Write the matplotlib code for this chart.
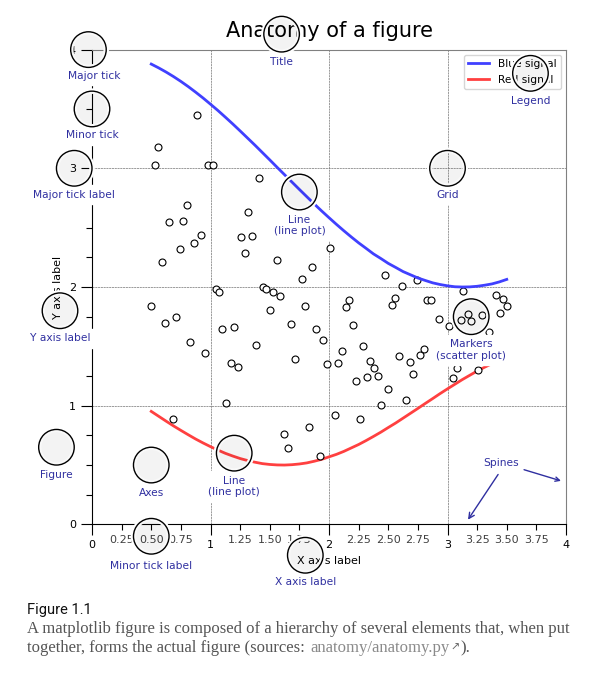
import matplotlib
matplotlib.use("Agg")
import matplotlib.pyplot as plt
from matplotlib.ticker import MultipleLocator, AutoMinorLocator, FuncFormatter
from matplotlib.patches import Circle
from matplotlib.patheffects import withStroke

# --- data ---
X_line = [0.5, 0.5625, 0.625, 0.6875, 0.75, 0.8125, 0.875, 0.9375, 1.0, 1.0625, 1.125,
          1.1875, 1.25, 1.3125, 1.375, 1.4375, 1.5, 1.5625, 1.625, 1.6875, 1.75, 1.8125,
          1.875, 1.9375, 2.0, 2.0625, 2.125, 2.1875, 2.25, 2.3125, 2.375, 2.4375, 2.5,
          2.5625, 2.625, 2.6875, 2.75, 2.8125, 2.875, 2.9375, 3.0, 3.0625, 3.125, 3.1875,
          3.25, 3.3125, 3.375, 3.4375, 3.5]
Y_blue = [3.878, 3.846, 3.811, 3.773, 3.732, 3.688, 3.641, 3.592, 3.540, 3.487, 3.431,
          3.374, 3.315, 3.255, 3.195, 3.133, 3.071, 3.008, 2.946, 2.884, 2.822, 2.761,
          2.700, 2.641, 2.584, 2.528, 2.474, 2.422, 2.372, 2.326, 2.279, 2.240, 2.199,
          2.165, 2.130, 2.103, 2.076, 2.055, 2.035, 2.021, 2.010, 2.002, 2.000, 2.001,
          2.006, 2.015, 2.026, 2.043, 2.064]
Y_red = [0.952, 0.911, 0.870, 0.830, 0.792, 0.755, 0.719, 0.686, 0.655, 0.626, 0.599,
         0.576, 0.555, 0.538, 0.524, 0.512, 0.505, 0.501, 0.500, 0.503, 0.509, 0.518,
         0.532, 0.548, 0.569, 0.590, 0.615, 0.644, 0.673, 0.706, 0.741, 0.777, 0.816,
         0.854, 0.895, 0.936, 0.977, 1.019, 1.060, 1.102, 1.142, 1.181, 1.220, 1.256,
         1.292, 1.324, 1.354, 1.383, 1.408]

X_pts = [0.89, 0.56, 0.53, 0.98, 1.02, 1.41, 0.80, 0.65, 0.77, 1.32, 0.92, 0.86, 0.74,
         1.26, 1.35, 1.29, 0.59, 1.56, 1.86, 1.77, 2.01, 1.05, 1.07, 1.44, 1.47, 1.53,
         1.59, 0.50, 0.62, 0.71, 1.80, 1.50, 1.10, 1.20, 1.68, 1.89, 1.95, 0.83, 0.95,
         1.38, 1.17, 1.23, 1.71, 1.98, 1.13, 0.68, 1.62, 1.83, 1.65, 1.92, 2.47, 2.62,
         2.74, 3.13, 2.17, 2.14, 2.20, 2.56, 2.53, 2.83, 2.86, 2.93, 3.01, 3.11, 3.17,
         3.20, 3.29, 3.41, 3.47, 3.50, 3.44, 3.35, 2.11, 2.29, 2.08, 2.35, 2.38, 2.23,
         2.32, 2.41, 2.59, 2.68, 2.77, 2.80, 2.71, 2.50, 2.65, 2.44, 2.05, 2.26, 3.05,
         3.08, 3.26]
Y_pts = [3.45, 3.18, 3.03, 3.03, 3.03, 2.92, 2.69, 2.55, 2.56, 2.63, 2.44, 2.37, 2.32,
         2.42, 2.43, 2.29, 2.21, 2.23, 2.17, 2.07, 2.33, 1.98, 1.96, 2.00, 1.98, 1.96,
         1.92, 1.84, 1.70, 1.75, 1.84, 1.81, 1.65, 1.66, 1.69, 1.65, 1.55, 1.54, 1.44,
         1.51, 1.36, 1.33, 1.39, 1.35, 1.02, 0.89, 0.76, 0.82, 0.64, 0.58, 2.10, 2.01,
         2.06, 1.97, 1.89, 1.83, 1.68, 1.91, 1.85, 1.89, 1.89, 1.73, 1.67, 1.72, 1.77,
         1.71, 1.76, 1.93, 1.90, 1.84, 1.78, 1.62, 1.46, 1.50, 1.36, 1.38, 1.32, 1.21,
         1.24, 1.25, 1.42, 1.37, 1.43, 1.48, 1.27, 1.14, 1.05, 1.01, 0.92, 0.89, 1.23,
         1.32, 1.30]

ann_color = "#2f2fa0"

fig = plt.figure(figsize=(6.13, 6.80), dpi=100)
ax = fig.add_axes([92 / 613, 1 - 524.4 / 680, 474 / 613, 474.8 / 680])


def minor_tick(x, pos):
    if not x % 1.0:
        return ""
    return "%.2f" % x


ax.xaxis.set_major_locator(MultipleLocator(1.0))
ax.xaxis.set_minor_locator(AutoMinorLocator(4))
ax.yaxis.set_major_locator(MultipleLocator(1.0))
ax.yaxis.set_minor_locator(AutoMinorLocator(4))
ax.xaxis.set_minor_formatter(FuncFormatter(minor_tick))
ax.set_xlim(0, 4)
ax.set_ylim(0, 4)

ax.tick_params(which='major', width=0.8, length=8, labelsize=8)
ax.tick_params(which='minor', width=0.8, length=4, labelsize=8, labelcolor='0.25')
for side in ['top', 'right']:
    ax.spines[side].set_color('0.5')
    ax.spines[side].set_linewidth(0.8)

ax.grid(linestyle=(0, (3, 1)), linewidth=0.5, color='.45', zorder=-10)

ax.plot(X_line, Y_blue, c=(0.25, 0.25, 1.00), lw=2, label="Blue signal", zorder=10)
ax.plot(X_line, Y_red, c=(1.00, 0.25, 0.25), lw=2, label="Red signal")
ax.plot(X_pts, Y_pts, linewidth=0, marker='o', markersize=5,
        markerfacecolor='w', markeredgecolor='k', markeredgewidth=0.8)

ax.set_title("Anatomy of a figure", fontsize=15, verticalalignment='bottom')
ax.set_xlabel("X axis label", fontsize=8)
ax.set_ylabel("Y axis label", fontsize=8)
ax.legend(fontsize=7.7, loc='upper right')


def circle(x, y, radius=0.15):
    c = Circle((x, y), radius, clip_on=False, zorder=10, linewidth=1,
               edgecolor='black', facecolor=(0, 0, 0, .025),
               path_effects=[withStroke(linewidth=4, foreground='w')])
    ax.add_artist(c)


def text(x, y, s):
    ax.text(x, y, s, backgroundcolor="white", ha='center', va='top',
            color=ann_color, fontsize=7.7, zorder=4)


# circles and their labels
circle(-0.03, 4.00); text(0.02, 3.82, "Major tick")
circle(0.00, 3.50); text(0.00, 3.32, "Minor tick")
circle(-0.15, 3.00); text(-0.15, 2.82, "Major tick label")
circle(-0.27, 1.80); text(-0.27, 1.61, "Y axis label")
circle(-0.30, 0.65); text(-0.30, 0.46, "Figure")
circle(0.50, 0.50); text(0.50, 0.31, "Axes")
circle(1.20, 0.60); text(1.20, 0.41, "Line\n(line plot)")
circle(1.75, 2.80); text(1.75, 2.61, "Line\n(line plot)")
circle(1.60, 4.13); text(1.60, 3.94, "Title")
circle(3.70, 3.80); text(3.70, 3.61, "Legend")
circle(3.00, 3.00); text(3.00, 2.82, "Grid")
circle(3.20, 1.75); text(3.20, 1.56, "Markers\n(scatter plot)")
circle(0.50, -0.10); text(0.50, -0.31, "Minor tick label")
circle(1.80, -0.26); text(1.80, -0.44, "X axis label")

ax.annotate('Spines', xy=(3.98, 0.36), xytext=(3.45, 0.52), color=ann_color,
            fontsize=7.7, ha='center', va='center',
            arrowprops=dict(arrowstyle='->', connectionstyle="arc3", color=ann_color))
ax.annotate('', xy=(3.16, 0.02), xytext=(3.44, 0.44), color=ann_color,
            arrowprops=dict(arrowstyle='->', connectionstyle="arc3", color=ann_color))

# caption below the figure
fig.text(27 / 613, 1 - 610 / 680, "Figure 1.1", fontsize=10.5, family='Roboto',
         va='center', color='#111111')
fig.text(27 / 613, 1 - 629 / 680,
         "A matplotlib figure is composed of a hierarchy of several elements that, when put",
         fontsize=12, family='Liberation Serif', va='center', color='#555555')

renderer = fig.canvas.get_renderer()
pieces = [("together, forms the actual figure (sources: ", '#555555', 12, 'Liberation Serif'),
          ("anatomy/anatomy.py", '#8a8a8a', 12, 'Liberation Serif'),
          ("\u2197", '#666666', 8, 'DejaVu Sans'),
          (").", '#555555', 12, 'Liberation Serif')]
xpos = 27
for s, col, fs, fam in pieces:
    t = fig.text(xpos / 613, 1 - 648 / 680, s, fontsize=fs, family=fam,
                 va='center', color=col)
    xpos += t.get_window_extent(renderer).width + 1

fig.savefig("out.png", dpi=100)
